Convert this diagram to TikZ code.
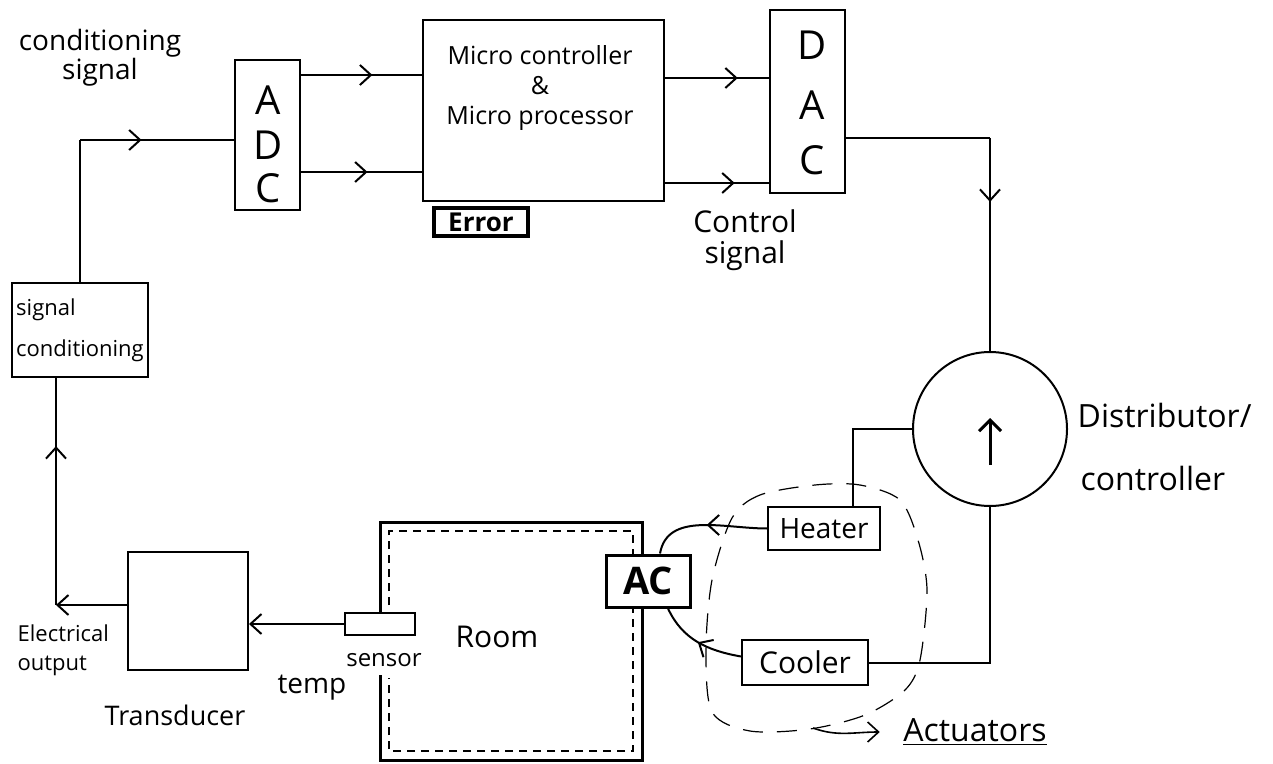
\documentclass[tikz,border=0pt]{standalone}
\usepackage{fontspec}
\setmainfont{Open Sans}
\usetikzlibrary{arrows.meta,decorations.markings}

\begin{document}
\begin{tikzpicture}[x=0.5pt, y=-0.5pt, line width=1pt,
		>={Straight Barb[length=5.5pt,width=10pt]},
		block/.style={draw, rectangle, fill=white, inner sep=1pt},
		lbl/.style={font=\pgfmathsetmacro\lblskip{1.05*#1}\fontsize{#1}{\lblskip}\selectfont},
		midarrow/.style={postaction={decorate}, decoration={markings, mark=at position #1 with {\arrow{>}}}},
		midarrow/.default=0.5]
		\useasboundingbox (0,0) rectangle (1273,764);
		% converters and processor
		\node[block, minimum width=32.5pt, minimum height=75pt] (adc) at (267.5,135) {};
		\foreach \c/\y in {A/100,D/145,C/188} \node[lbl=20] (adc\c) at (268,\y) {\c};
		\node[block, minimum width=120.5pt, minimum height=90.5pt] (mcu) at (543.5,110.5) {};
		\node[lbl=12.5, align=center] (mcutext) at (540,88) {Micro controller\\[2pt]\&\\[2pt]Micro processor};
		\node[block, minimum width=37.5pt, minimum height=91.5pt] (dac) at (807.5,101.5) {};
		\foreach \c/\y in {D/45,A/105,C/160} \node[lbl=20] (dac\c) at (812,\y) {\c};
		\node[draw, line width=1.8pt, minimum width=47pt, minimum height=14pt, inner sep=0.5pt,
			font={\bfseries\fontsize{13}{14}\selectfont}] (err) at (481,222) {Error};
		\node[lbl=14, align=center] (condlabel) at (100,58) {conditioning\\signal};
		\node[lbl=15, align=center] (ctrllabel) at (745,240) {Control\\signal};
		% sensing side
		\node[block, minimum width=68pt, minimum height=47pt, align=left, lbl=11] (sigcond) at (80,330) {signal\\[9pt]conditioning};
		\node[block, minimum width=60pt, minimum height=59pt] (trans) at (188,611) {};
		\node[lbl=13.5] (translabel) at (175,715) {Transducer};
		\node[lbl=11, align=left, anchor=west] (outlabel) at (10,650) {Electrical\\[3pt]output};
		\node[lbl=14] (templabel) at (312,688) {temp};
		% room
		\draw[line width=1.5pt] (380,612) -- (380,522) -- (642,522) -- (642,760) -- (380,760) -- (380,675);
		\draw[dash pattern=on 4pt off 3pt, line width=0.8pt] (389,605) -- (389,531) -- (633,531) -- (633,751) -- (389,751) -- (389,678);
		\node[lbl=15] (roomlabel) at (497,637) {Room};
		\node[block, minimum width=35pt, minimum height=11pt] (sensor) at (380,624) {};
		\node[lbl=12] (sensorlabel) at (384,660) {sensor};
		\node[block, line width=1.5pt, minimum width=42pt, minimum height=26pt,
			font={\bfseries\fontsize{19}{20}\selectfont}] (ac) at (648,581) {AC};
		% distributor and actuators
		\node[draw, circle, minimum size=77pt, inner sep=0pt] (dist) at (990,429) {};
		\draw[line width=1.5pt, -{Straight Barb[length=5.5pt,width=11pt]}] ([yshift=-18pt]dist.center) -- ([yshift=5.5pt]dist.center);
		\node[lbl=16, anchor=west] (distlabel) at (1070,415) {Distributor/};
		\node[lbl=16, anchor=west] (ctrlname) at (1073,478) {controller};
		\node[block, minimum width=56pt, minimum height=21.5pt, lbl=14] (heater) at (824,528.5) {Heater};
		\node[block, minimum width=63pt, minimum height=22.5pt, lbl=15] (cooler) at (805,662.5) {Cooler};
		\draw[dash pattern=on 10pt off 7pt, line width=0.6pt] plot[smooth cycle] coordinates {(815,485) (760,495) (732,518) (712,580) (706,650) (712,712) (750,731) (810,729) (865,715) (905,690) (920,660) (927,590) (918,540) (900,500) (860,485)};
		\coordinate (blobbot) at (813,728);
		\node[lbl=16] (act) at (975,732) {\underline{Actuators}};
		\draw[->, line width=0.8pt] (blobbot) to[out=-20,in=180] ([xshift=-8pt]act.west);
		% signal flow
		\coordinate (sigturn) at (80,140);
		\draw (sigcond.north) -- (sigturn);
		\draw[midarrow=0.4] (sigturn) -- (adc.west |- sigturn);
		\draw[midarrow=0.59] (adc.east |- 0,75) -- (mcu.west |- 0,75);
		\draw[midarrow=0.55] (adc.east |- 0,172) -- (mcu.west |- 0,172);
		\draw[midarrow=0.7] (mcu.east |- 0,78) -- (dac.west |- 0,78);
		\draw[midarrow=0.67] (mcu.east |- 0,183) -- (dac.west |- 0,183);
		\coordinate (dacturn) at (990,138);
		\draw (dac.east |- dacturn) -- (dacturn);
		\draw[midarrow=0.3] (dacturn) -- (dist.north);
		\draw (dist.west) -| ([xshift=14.5pt]heater.north);
		\draw (dist.south) |- (cooler.east);
		\draw[midarrow=0.5] (heater.west) to[out=180,in=80] ([xshift=6pt]ac.north);
		\draw[midarrow=0.5] ([yshift=3pt]cooler.west) to[out=170,in=-65] ([xshift=10pt]ac.south);
		\draw[->] (sensor.west) -- (sensor.west -| trans.east);
		\coordinate (eout) at (56,605);
		\draw[->] (trans.west |- eout) -- (eout);
		\draw[midarrow=0.7] (eout) -- (sigcond.south -| eout);
	\end{tikzpicture}
\end{document}
